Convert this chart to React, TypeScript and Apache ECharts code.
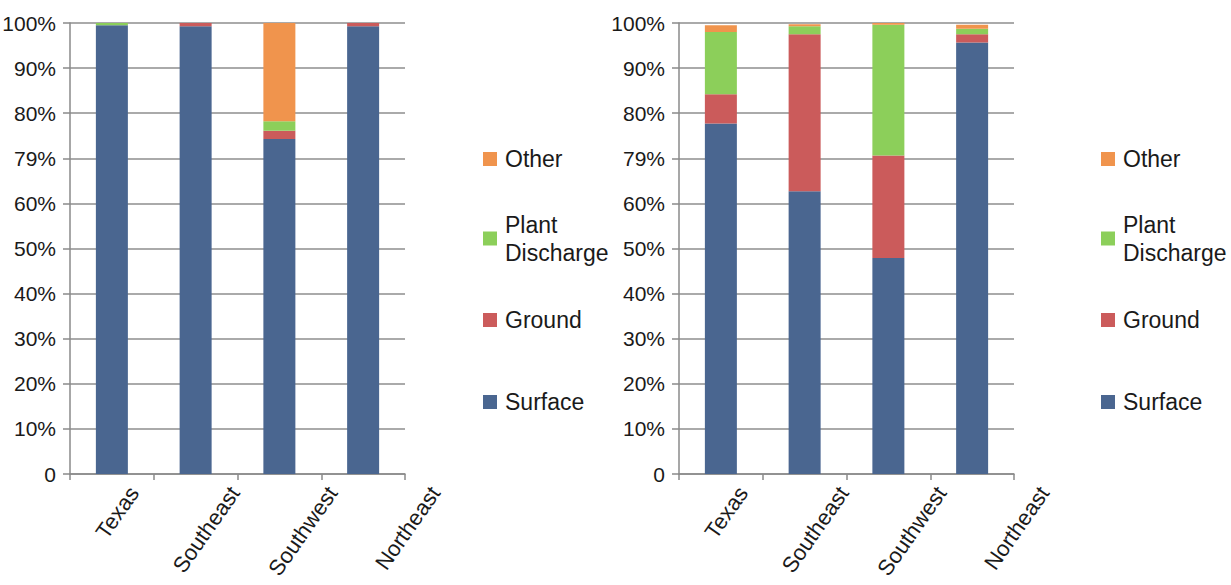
import React, { useEffect, useRef } from "react";
import * as echarts from "echarts";

const categories = ["Texas", "Southeast", "Southwest", "Northeast"];
const seriesNames = ["Surface", "Ground", "Plant Discharge", "Other"];
const yTickLabels = ["0", "10%", "20%", "30%", "40%", "50%", "60%", "79%", "80%", "90%", "100%"];

// Left chart (percent)
const leftSurface = [99.5, 99.3, 74.3, 99.3];
const leftGround = [0, 0.7, 1.8, 0.7];
const leftPlant = [0.5, 0, 2.1, 0];
const leftOther = [0, 0, 21.8, 0];

// Right chart (percent)
const rightSurface = [77.7, 62.7, 47.9, 95.7];
const rightGround = [6.5, 34.8, 22.7, 1.8];
const rightPlant = [13.8, 1.8, 29.0, 1.2];
const rightOther = [1.5, 0.4, 0.4, 0.9];

const colors: Record<string, string> = {
  Surface: "#4A6690",
  Ground: "#CB5B5B",
  "Plant Discharge": "#8CCF5A",
  Other: "#F0944D",
};

const FONT = "'Liberation Sans', Arial, Helvetica, sans-serif";

export default function App() {
  const ref = useRef<HTMLDivElement>(null);
  useEffect(() => {
    if (!ref.current) return;
    const chart = echarts.init(ref.current, undefined, { renderer: "svg" });
    const gridLefts = [70, 679];
    const gridWidth = 335;

    // rotated category label placement (text end offsets from the category centre)
    const ROT = 55;
    const c = Math.cos((ROT * Math.PI) / 180);
    const s = Math.sin((ROT * Math.PI) / 180);
    const MARGIN = -35;
    const endDx = [22, 39, 53, 72];
    const endY = 489;
    const dy = endY - (474 + MARGIN);
    const rich: Record<string, any> = {};
    endDx.forEach((dx, i) => {
      const u = dx * c - dy * s;
      const v = dx * s + dy * c;
      rich["l" + i] = {
        fontSize: 22,
        color: "#1a1a1a",
        fontFamily: FONT,
        lineHeight: 2 * v,
        padding: [0, -u, 0, 0],
      };
    });

    const makeX = (i: number) => ({
      type: "category",
      gridIndex: i,
      data: categories,
      axisLine: { show: true, lineStyle: { color: "#8a8a8a", width: 1.5 } },
      axisTick: { show: true, length: 6, lineStyle: { color: "#8a8a8a", width: 1.5 } },
      axisLabel: {
        interval: 0,
        rotate: ROT,
        margin: MARGIN,
        align: "right",
        verticalAlign: "top",
        fontSize: 22,
        fontFamily: FONT,
        color: "#1a1a1a",
        formatter: (v: string, idx: number) => `{l${idx}|${v}}`,
        rich,
      },
    });
    const makeY = (i: number) => ({
      type: "value",
      gridIndex: i,
      min: 0,
      max: 100,
      interval: 10,
      axisLine: { show: true, lineStyle: { color: "#8a8a8a", width: 1.5 } },
      axisTick: { show: true, length: 7, lineStyle: { color: "#8a8a8a", width: 1.5 } },
      splitLine: { show: true, lineStyle: { color: "#8e8e8e", width: 1.5 } },
      axisLabel: {
        fontSize: 21,
        color: "#1a1a1a",
        fontFamily: FONT,
        margin: 14,
        formatter: (v: number) => yTickLabels[Math.round(v / 10)],
      },
    });
    const leftData = [leftSurface, leftGround, leftPlant, leftOther];
    const rightData = [rightSurface, rightGround, rightPlant, rightOther];
    const series: any[] = [];
    [leftData, rightData].forEach((set, gi) => {
      set.forEach((vals, si) => {
        series.push({
          type: "bar",
          name: seriesNames[si],
          xAxisIndex: gi,
          yAxisIndex: gi,
          stack: "s" + gi,
          barWidth: 32,
          data: vals,
          itemStyle: { color: colors[seriesNames[si]] },
        });
      });
    });
    const iconCenters: Record<string, number> = {
      Other: 159,
      "Plant Discharge": 238.5,
      Ground: 320,
      Surface: 402,
    };
    const legendLefts = [483, 1101];
    const legends: any[] = [];
    legendLefts.forEach((lx) => {
      seriesNames.forEach((n) => {
        const multi = n === "Plant Discharge";
        legends.push({
          data: [n],
          left: lx,
          top: multi ? iconCenters[n] - 42 : iconCenters[n] - 14,
          orient: "vertical",
          padding: 0,
          itemWidth: 14,
          itemHeight: 14,
          icon: "rect",
          selectedMode: false,
          formatter: (name: string) => (name === "Plant Discharge" ? "Plant\nDischarge" : name),
          textStyle: {
            fontSize: 23,
            color: "#1a1a1a",
            fontFamily: FONT,
            lineHeight: 28,
            padding: multi ? [28, 0, 0, 3] : [0, 0, 0, 3],
          },
        });
      });
    });
    chart.setOption({
      animation: false,
      backgroundColor: "#ffffff",
      textStyle: { fontFamily: FONT },
      grid: gridLefts.map((l) => ({
        left: l,
        width: gridWidth,
        top: 23,
        bottom: 111,
        containLabel: false,
        outerBoundsMode: "none",
      })),
      xAxis: [makeX(0), makeX(1)],
      yAxis: [makeY(0), makeY(1)],
      legend: legends,
      series,
    });
    return () => chart.dispose();
  }, []);
  return (
    <div
      ref={ref}
      style={{ position: "fixed", left: 0, top: 0, width: 1231, height: 585 }}
    />
  );
}
